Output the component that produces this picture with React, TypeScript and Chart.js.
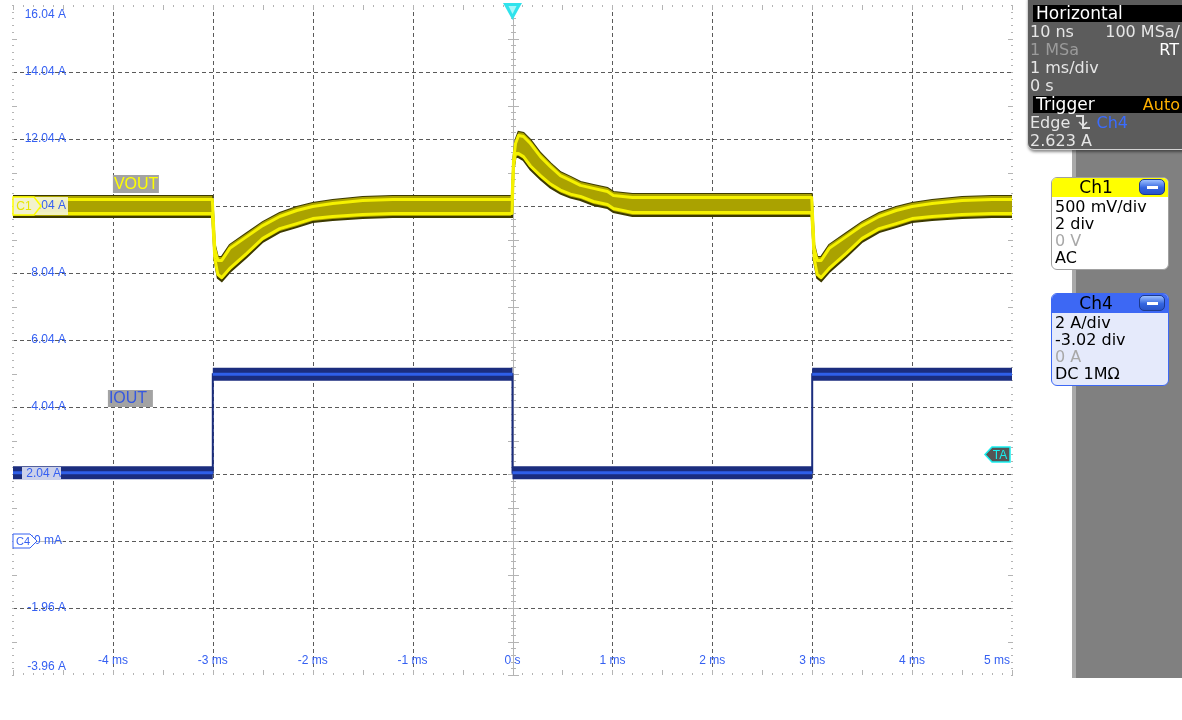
import React, { useEffect, useRef } from 'react';
import { Chart, registerables } from 'chart.js';

Chart.register(...registerables);

// ---- Axis ticks (time in ms, vertical in display units "A") ----
const xTicks = [-5, -4, -3, -2, -1, 0, 1, 2, 3, 4, 5];
const xTickLabels = ['', '-4 ms', '-3 ms', '-2 ms', '-1 ms', '0 s', '1 ms', '2 ms', '3 ms', '4 ms', '5 ms'];
const yTicks = [-3.96, -1.96, 0.04, 2.04, 4.04, 6.04, 8.04, 10.04, 12.04, 14.04, 16.04];
const yTickLabels = ['-3.96 A', '-1.96 A', '40 mA', '2.04 A', '4.04 A', '6.04 A', '8.04 A', '10.04 A', '12.04 A', '14.04 A', '16.04 A'];

// ---- Ch1 VOUT (AC-coupled, shown on display grid) envelope ----
const voutTime = [-5, -3.005, -2.98, -2.95, -2.91, -2.83, -2.66, -2.5, -2.33, -2.16, -2.0, -1.8, -1.5, -1.2,
  -0.005, 0.01, 0.03, 0.06, 0.11, 0.18, 0.28, 0.38, 0.48, 0.58, 0.68, 0.81, 0.95, 1.01, 1.2,
  2.995, 3.02, 3.05, 3.09, 3.17, 3.34, 3.5, 3.67, 3.84, 4.0, 4.2, 4.5, 4.8, 5];
const voutUpper = [10.34, 10.34, 8.88, 8.52, 8.52, 8.88, 9.23, 9.56, 9.83, 10.01, 10.13, 10.22, 10.31, 10.34,
  10.34, 11.50, 12.01, 12.25, 12.22, 12.01, 11.62, 11.32, 11.05, 10.91, 10.76, 10.67, 10.58, 10.46, 10.40,
  10.40, 8.88, 8.52, 8.52, 8.88, 9.23, 9.56, 9.83, 10.01, 10.13, 10.22, 10.31, 10.34, 10.34];
const voutLower = [9.71, 9.71, 8.37, 7.89, 7.80, 8.07, 8.52, 8.97, 9.26, 9.41, 9.56, 9.62, 9.68, 9.71,
  9.71, 11.11, 11.50, 11.50, 11.41, 11.13, 10.84, 10.59, 10.41, 10.29, 10.22, 10.07, 9.98, 9.86, 9.74,
  9.74, 8.37, 7.89, 7.80, 8.07, 8.52, 8.97, 9.26, 9.41, 9.56, 9.62, 9.68, 9.71, 9.71];

// ---- Ch4 IOUT (A) ----
const ioutTime = [-5, -3, -3, -3, 0, 0, 0, 3, 3, 3, 5];
const ioutLevel = [2.08, 2.08, null, 5.02, 5.02, null, 2.08, 2.08, null, 5.02, 5.02];
const ioutEdgeTime = [-5, -3, -3, 0, 0, 3, 3, 5];
const ioutEdge = [2.08, 2.08, 5.02, 5.02, 2.08, 2.08, 5.02, 5.02];

const triggerLevel = 2.623;
const triggerTime = 0;

const BLUE = '#3560f2';
const LABEL_FONT = '12px "Liberation Sans", Arial, sans-serif';
const PANEL_FONT = '"DejaVu Sans", Verdana, sans-serif';

const pts = (xs: number[], ys: (number | null)[]) => xs.map((x, i) => ({ x, y: ys[i] }));

const scopePlugin = {
  id: 'scope',
  beforeDatasetsDraw(chart: any) {
    const { ctx, chartArea, scales } = chart;
    const { left, right, top, bottom } = chartArea;
    const xs = scales.x, ys = scales.y;
    ctx.save();
    ctx.strokeStyle = '#5a5a5a';
    ctx.lineWidth = 1;
    ctx.setLineDash([4, 3]);
    xTicks.forEach((v, i) => {
      if (i === 0 || i === xTicks.length - 1 || v === triggerTime) return;
      const px = Math.round(xs.getPixelForValue(v)) + 0.5;
      ctx.beginPath(); ctx.moveTo(px, top); ctx.lineTo(px, bottom); ctx.stroke();
    });
    yTicks.forEach((v, i) => {
      if (i === 0 || i === yTicks.length - 1) return;
      const py = Math.round(ys.getPixelForValue(v)) + 0.5;
      ctx.beginPath(); ctx.moveTo(left, py); ctx.lineTo(right, py); ctx.stroke();
    });
    ctx.setLineDash([]);
    const cx = Math.round(xs.getPixelForValue(triggerTime)) + 0.5;
    ctx.strokeStyle = '#b4b4b4';
    ctx.beginPath(); ctx.moveTo(cx, top); ctx.lineTo(cx, bottom); ctx.stroke();
    ctx.fillStyle = '#b4b4b4';
    const nV = (yTicks.length - 1) * 10;
    for (let k = 0; k <= nV; k++) {
      const py = Math.round(top + (k * (bottom - top)) / nV);
      const len = k % 5 === 0 ? 5 : 2;
      ctx.fillRect(cx - 0.5 - len, py, len * 2 + 1, 1);
    }
    for (let k = 0; k <= nV; k++) {
      const py = Math.round(top + (k * (bottom - top)) / nV);
      const long = k % 5 === 0 && k % 10 !== 0;
      const w = long ? 5 : 2;
      ctx.fillRect(left - 1, py, w, 1);
      ctx.fillRect(right - w + 1, py, w, 1);
    }
    const nH = (xTicks.length - 1) * 10;
    for (let k = 0; k <= nH; k++) {
      const px = Math.round(left + (k * (right - left)) / nH);
      const long = k % 5 === 0;
      const h = long ? 5 : 2;
      ctx.fillRect(px, top, 1, h);
      ctx.fillRect(px, bottom - h, 1, h);
    }
    ctx.restore();
  },
  afterDatasetsDraw(chart: any) {
    const { ctx, chartArea } = chart;
    const { left, right, top, bottom } = chartArea;
    ctx.save();
    ctx.beginPath(); ctx.rect(left, top, right - left, bottom - top); ctx.clip();
    const up = chart.getDatasetMeta(0).data;
    const lo = chart.getDatasetMeta(1).data;
    ctx.strokeStyle = '#f5f100';
    ctx.lineWidth = 3;
    ctx.lineJoin = 'round';
    ctx.beginPath();
    up.forEach((p: any, i: number) => (i ? ctx.lineTo(p.x, p.y + 3.5) : ctx.moveTo(p.x, p.y + 3.5)));
    ctx.stroke();
    ctx.beginPath();
    lo.forEach((p: any, i: number) => (i ? ctx.lineTo(p.x, p.y - 3.5) : ctx.moveTo(p.x, p.y - 3.5)));
    ctx.stroke();
    ctx.restore();
  },
  afterDraw(chart: any) {
    const { ctx, chartArea, scales } = chart;
    const { left, right, top } = chartArea;
    const xs = scales.x, ys = scales.y;
    ctx.save();
    ctx.font = LABEL_FONT;
    ctx.textBaseline = 'middle';

    const c1y = ys.getPixelForValue(10.04);
    ctx.fillStyle = 'rgba(242,242,206,0.95)';
    ctx.fillRect(left, c1y - 9, 55, 18);
    const c4y = ys.getPixelForValue(0.04);
    ctx.fillStyle = '#bdbdbd';
    ctx.fillRect(left, Math.round(c4y), 50, 1);

    ctx.textAlign = 'right';
    yTicks.forEach((v, i) => {
      let py = ys.getPixelForValue(v);
      if (i === yTicks.length - 1) py += 10;
      if (i === 0) py -= 8;
      if (v === 2.04) {
        ctx.fillStyle = '#cbd1ea';
        ctx.fillRect(22, py - 7, 39, 13);
      }
      ctx.fillStyle = BLUE;
      ctx.fillText(yTickLabels[i], v === 2.04 ? 61 : v === 0.04 ? 62 : 66, py);
    });

    xTicks.forEach((v, i) => {
      if (!xTickLabels[i]) return;
      const px = xs.getPixelForValue(v);
      ctx.fillStyle = BLUE;
      if (i === xTicks.length - 1) { ctx.textAlign = 'right'; ctx.fillText(xTickLabels[i], px - 2, 661); }
      else { ctx.textAlign = 'center'; ctx.fillText(xTickLabels[i], px, 661); }
    });

    // C1 marker
    ctx.beginPath();
    ctx.moveTo(left, c1y - 9); ctx.lineTo(left + 21, c1y - 9); ctx.lineTo(left + 28, c1y);
    ctx.lineTo(left + 21, c1y + 9); ctx.lineTo(left, c1y + 9); ctx.closePath();
    ctx.fillStyle = 'rgb(242,242,206)'; ctx.fill();
    ctx.strokeStyle = '#ffff00'; ctx.lineWidth = 1.5; ctx.stroke();
    ctx.fillStyle = '#e6e600'; ctx.textAlign = 'center';
    ctx.fillText('C1', left + 11, c1y + 1);

    // C4 marker
    ctx.beginPath();
    ctx.moveTo(left, c4y - 7); ctx.lineTo(left + 17, c4y - 7); ctx.lineTo(left + 24, c4y);
    ctx.lineTo(left + 17, c4y + 7); ctx.lineTo(left, c4y + 7); ctx.closePath();
    ctx.fillStyle = '#ffffff'; ctx.fill();
    ctx.strokeStyle = BLUE; ctx.lineWidth = 1; ctx.stroke();
    ctx.fillStyle = BLUE; ctx.font = '11px "Liberation Sans", Arial, sans-serif';
    ctx.fillText('C4', left + 10, c4y + 1);

    // VOUT / IOUT name tags
    ctx.font = '16px "Liberation Sans", Arial, sans-serif';
    const vx = xs.getPixelForValue(-4);
    ctx.fillStyle = '#a3a3a3'; ctx.fillRect(vx, 175, 46, 18);
    ctx.fillStyle = '#ffff00'; ctx.textAlign = 'left'; ctx.fillText('VOUT', vx + 1, 184.5);
    ctx.fillStyle = '#a3a3a3'; ctx.fillRect(vx - 5, 390, 45, 17);
    ctx.fillStyle = '#3558e0'; ctx.fillText('IOUT', vx - 4, 399);

    // trigger level marker (TA)
    const ty = ys.getPixelForValue(triggerLevel);
    ctx.beginPath();
    ctx.moveTo(right - 27, ty); ctx.lineTo(right - 20, ty - 7.5); ctx.lineTo(right - 2, ty - 7.5);
    ctx.lineTo(right - 2, ty + 7.5); ctx.lineTo(right - 20, ty + 7.5); ctx.closePath();
    ctx.fillStyle = '#555555'; ctx.fill();
    ctx.strokeStyle = '#19f0f0'; ctx.lineWidth = 1.5; ctx.stroke();
    ctx.fillStyle = '#19f0f0'; ctx.font = '12px "Liberation Sans", Arial, sans-serif';
    ctx.textAlign = 'center'; ctx.fillText('TA', right - 12, ty + 1);

    // trigger time marker
    const tx = xs.getPixelForValue(triggerTime);
    ctx.beginPath();
    ctx.moveTo(tx - 9.5, top - 2); ctx.lineTo(tx + 9.5, top - 2); ctx.lineTo(tx, top + 15); ctx.closePath();
    ctx.fillStyle = '#2fe3ec'; ctx.fill();
    ctx.beginPath();
    ctx.moveTo(tx - 4, top + 1); ctx.lineTo(tx + 4, top + 1); ctx.lineTo(tx, top + 9); ctx.closePath();
    ctx.fillStyle = '#a6f6fa'; ctx.fill();
    ctx.restore();
  },
};

const MinusButton = () => (
  <div style={{ position: 'absolute', right: 3, top: 1, width: 26, height: 16, borderRadius: 5,
    background: 'linear-gradient(#9cc0ff, #3466e0 55%, #2a54c8)', border: '1px solid #1c3a8e', boxSizing: 'border-box' }}>
    <div style={{ position: 'absolute', left: 7, top: 6, width: 11, height: 3, background: '#fff' }} />
  </div>
);

const ChBox = (p: { top: number; title: string; head: string; body: string; border: string; rows: [string, string][] }) => (
  <div style={{ position: 'absolute', left: 1051, top: p.top, width: 118, height: 93, boxSizing: 'border-box',
    border: `1px solid ${p.border}`, borderRadius: 6, background: p.body, overflow: 'hidden', fontFamily: PANEL_FONT }}>
    <div style={{ position: 'absolute', left: 0, top: 0, right: 0, height: 19, background: p.head }}>
      <div style={{ position: 'absolute', left: 0, width: 88, top: 0, textAlign: 'center', fontSize: 17, lineHeight: '19px', color: '#000' }}>{p.title}</div>
      <MinusButton />
    </div>
    {p.rows.map((r, i) => (
      <div key={i} style={{ position: 'absolute', left: 3, top: 20 + i * 17, fontSize: 16, lineHeight: '17px', color: r[1], whiteSpace: 'nowrap' }}>{r[0]}</div>
    ))}
  </div>
);

const row = (top: number, children: React.ReactNode, extra: any = {}) => (
  <div style={{ position: 'absolute', left: 2, right: 2, top, height: 18, lineHeight: '18px', fontSize: 16, color: '#e6e6e6', whiteSpace: 'nowrap', ...extra }}>{children}</div>
);

export default function App() {
  const ref = useRef<HTMLCanvasElement>(null);
  useEffect(() => {
    const chart = new Chart(ref.current as HTMLCanvasElement, {
      type: 'line',
      data: {
        datasets: [
          { data: pts(voutTime, voutUpper), borderColor: '#3d3a00', borderWidth: 2, fill: false, order: 5 },
          { data: pts(voutTime, voutLower), borderColor: '#3d3a00', borderWidth: 2, fill: '-1', backgroundColor: '#aaa200', order: 4 },
          { data: pts(ioutEdgeTime, ioutEdge), borderColor: '#1b2d7e', borderWidth: 2, fill: false, order: 3 },
          { data: pts(ioutTime, ioutLevel), borderColor: '#1b2d7e', borderWidth: 13, borderCapStyle: 'butt', fill: false, spanGaps: false, order: 2 },
          { data: pts(ioutTime, ioutLevel), borderColor: '#2f5fe8', borderWidth: 3, borderCapStyle: 'butt', fill: false, spanGaps: false, order: 1 },
        ] as any,
      },
      options: {
        animation: false,
        responsive: false,
        devicePixelRatio: 1,
        events: [],
        layout: { padding: { left: 13, right: 170, top: 5, bottom: 45 } },
        scales: {
          x: { type: 'linear', min: -5, max: 5, display: false },
          y: { type: 'linear', min: -3.96, max: 16.04, display: false },
        },
        elements: { point: { radius: 0 }, line: { tension: 0 } },
        plugins: { legend: { display: false }, tooltip: { enabled: false } },
      } as any,
      plugins: [scopePlugin],
    });
    return () => chart.destroy();
  }, []);

  return (
    <div style={{ position: 'absolute', left: 0, top: 0, width: 1182, height: 720, background: '#fff', overflow: 'hidden' }}>
      <canvas ref={ref} width={1182} height={720} style={{ position: 'absolute', left: 0, top: 0 }} />
      <div style={{ position: 'absolute', left: 1072, top: 0, width: 110, height: 678, background: '#808080', borderLeft: '4px solid #a9a9a9', boxSizing: 'border-box' }} />
      <div style={{ position: 'absolute', left: 1027, top: -2, width: 157, height: 152, background: '#5c5c5c', border: '1px solid #d4d4d4',
        borderBottomLeftRadius: 7, boxShadow: '1px 2px 3px rgba(0,0,0,0.45)', boxSizing: 'border-box', overflow: 'hidden', fontFamily: PANEL_FONT }}>
        <div style={{ position: 'absolute', left: 5, top: 6, right: 0, height: 17, background: '#000', color: '#fff', fontSize: 17, lineHeight: '17px', paddingLeft: 3 }}>Horizontal</div>
        {row(24, <>10 ns<span style={{ position: 'absolute', right: 1 }}>100 MSa/</span></>)}
        {row(42, <><span style={{ color: '#9b9b9b' }}>1 MSa</span><span style={{ position: 'absolute', right: 2, color: '#fff' }}>RT</span></>)}
        {row(60, '1 ms/div')}
        {row(78, '0 s')}
        <div style={{ position: 'absolute', left: 5, top: 97, right: 0, height: 17, background: '#000', color: '#fff', fontSize: 17, lineHeight: '17px', paddingLeft: 3 }}>
          Trigger<span style={{ position: 'absolute', right: 3, color: '#ffb000', fontSize: 16 }}>Auto</span>
        </div>
        {row(115, <>Edge <svg width="16" height="16" style={{ verticalAlign: '-2px' }}><path d="M1 2 H8 V14 H15" stroke="#e0e0e0" strokeWidth="2" fill="none" /><path d="M4 8 L8 12 L12 8" stroke="#e0e0e0" strokeWidth="1.5" fill="none" /></svg> <span style={{ color: '#3a6cff' }}>Ch4</span></>)}
        {row(133, '2.623 A')}
      </div>
      <ChBox top={177} title="Ch1" head="#ffff00" body="#ffffff" border="#a0a0a0"
        rows={[['500 mV/div', '#000'], ['2 div', '#000'], ['0 V', '#a8a8a8'], ['AC', '#000']]} />
      <ChBox top={293} title="Ch4" head="#3d68f4" body="#e5eafb" border="#3d68f4"
        rows={[['2 A/div', '#000'], ['-3.02 div', '#000'], ['0 A', '#a8a8a8'], ['DC 1MΩ', '#000']]} />
    </div>
  );
}
